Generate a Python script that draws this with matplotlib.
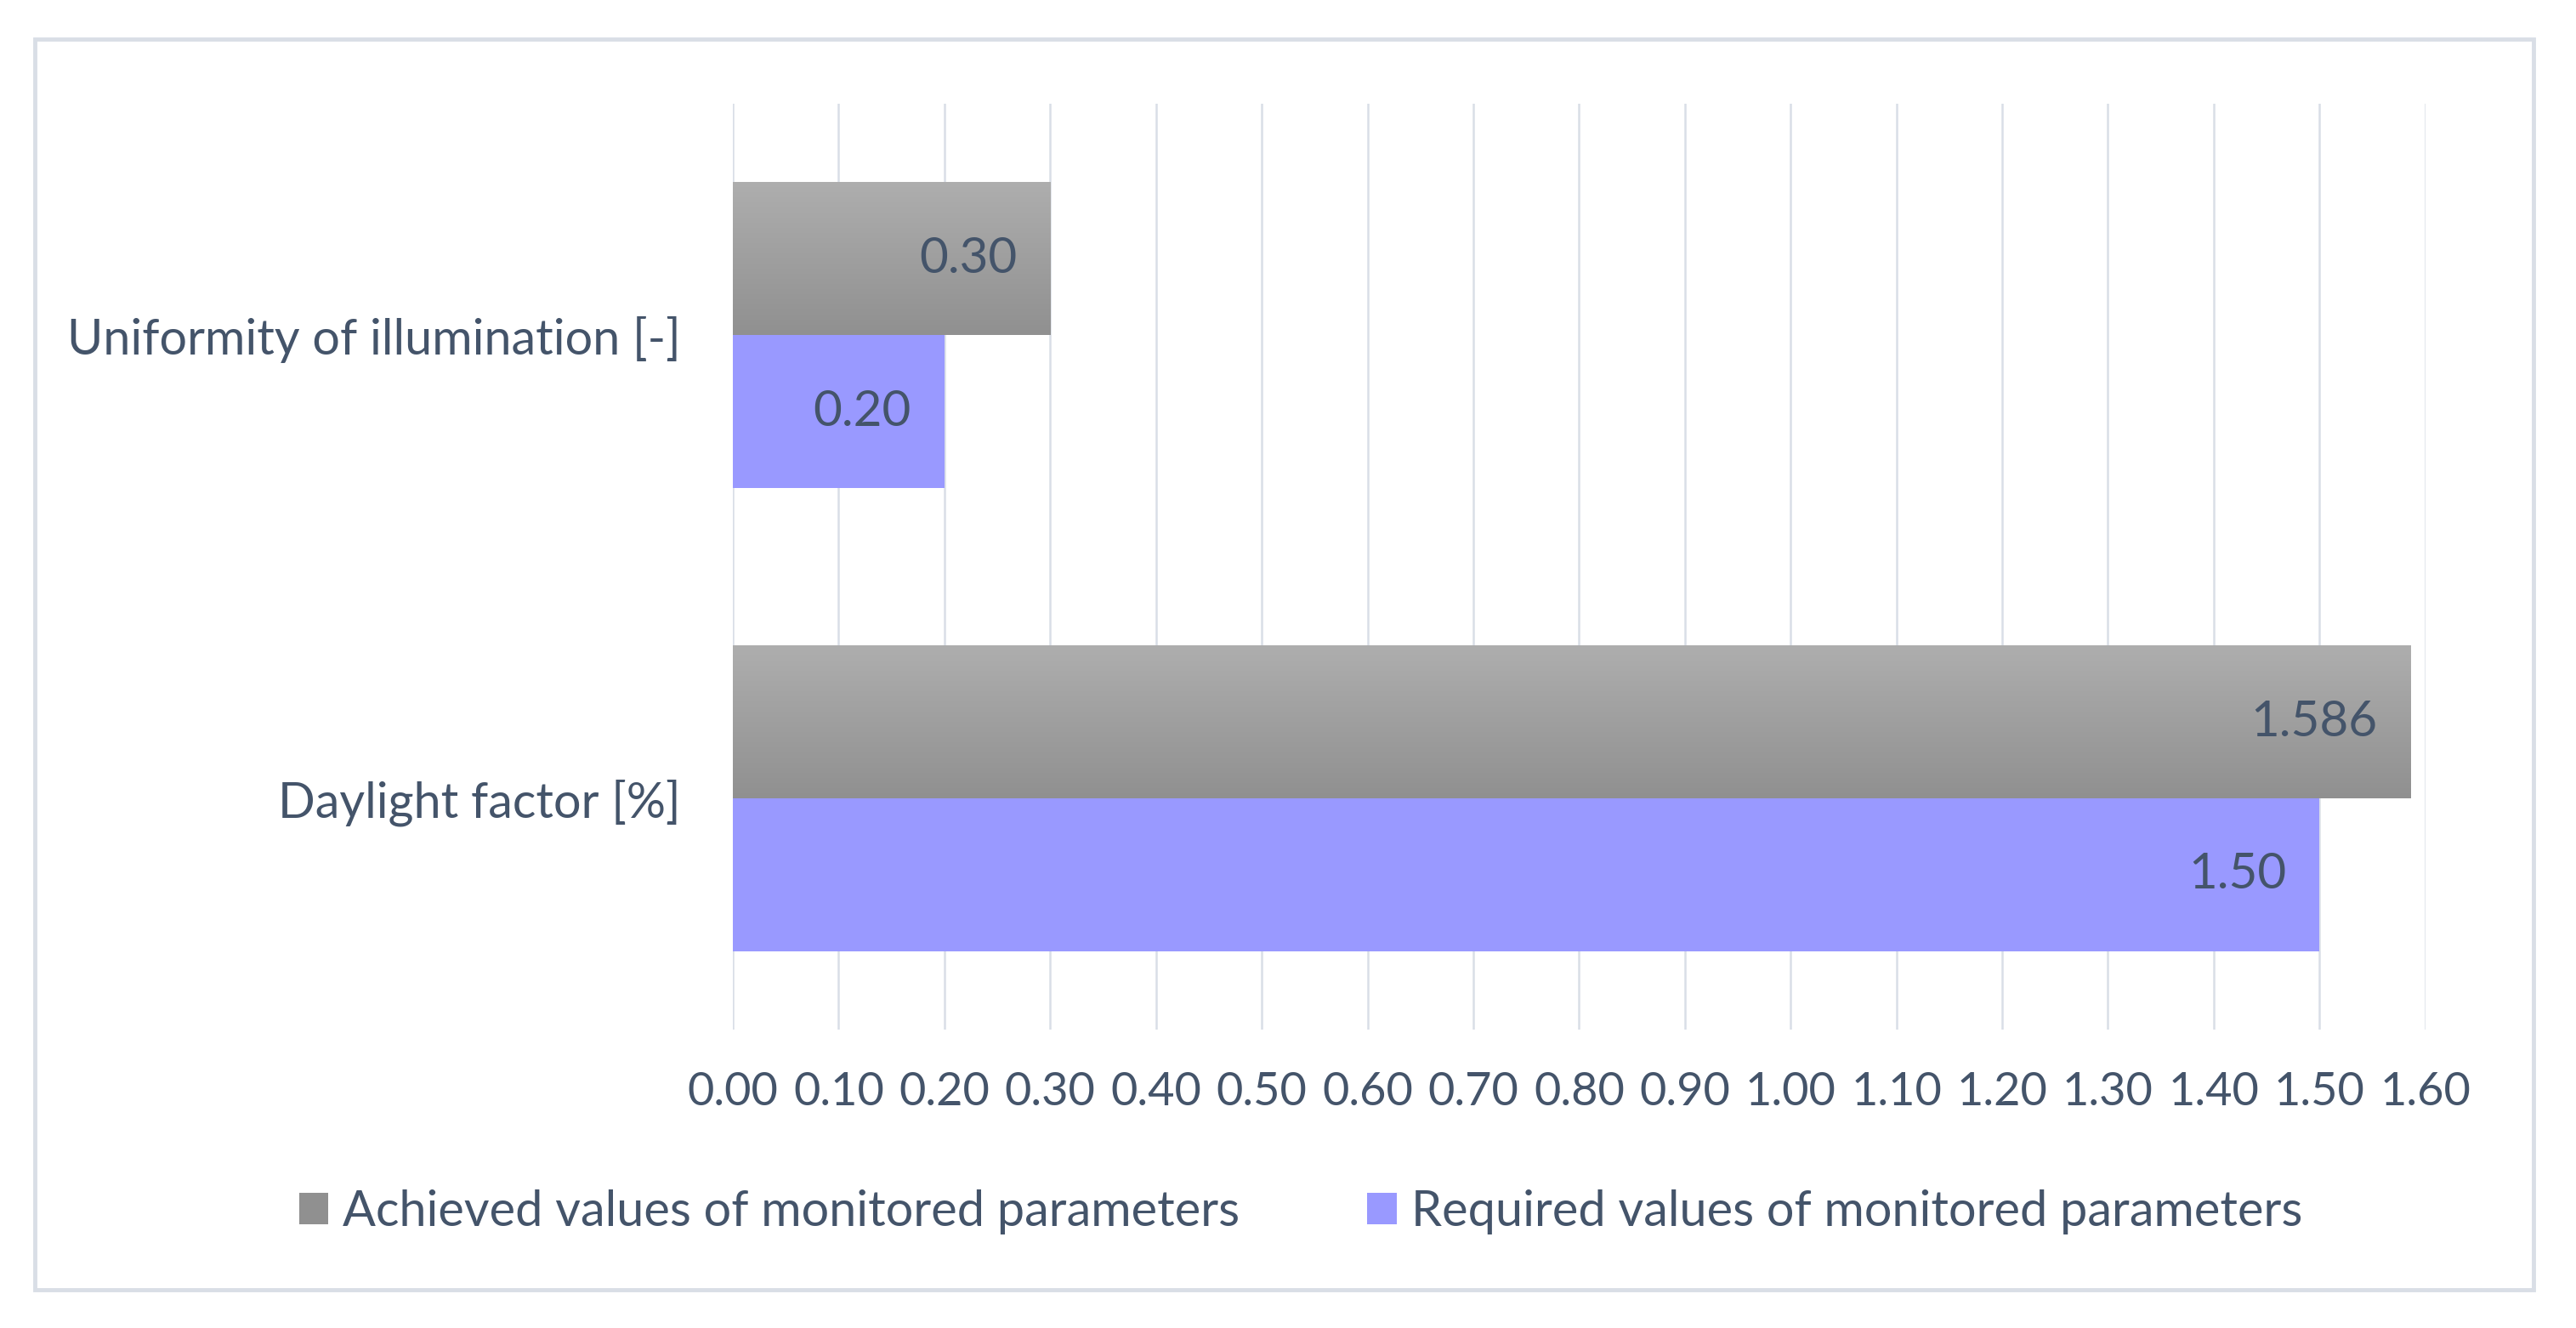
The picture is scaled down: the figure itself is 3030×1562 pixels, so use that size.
import numpy as np
import matplotlib
matplotlib.use("Agg")
import matplotlib.pyplot as plt
from matplotlib.patches import Rectangle, Patch
from matplotlib.colors import LinearSegmentedColormap

categories = ["Daylight factor [%]", "Uniformity of illumination [-]"]
achieved = [1.586, 0.30]
required = [1.50, 0.20]
achieved_labels = ["1.586", "0.30"]
required_labels = ["1.50", "0.20"]
series_names = ["Achieved values of monitored parameters",
                "Required values of monitored parameters"]
xticks = [round(0.1 * i, 2) for i in range(17)]
xtick_labels = [f"{v:.2f}" for v in xticks]

TEXT = "#44546A"
GRID = "#D9DEE7"
BLUE = "#9999FF"
GRAY_TOP = "#AEAEAE"
GRAY_BOT = "#909090"

plt.rcParams['font.family'] = ['Lato', 'DejaVu Sans']
FS_TICK = 39
FS_CAT = 41.5
FS_LAB = 42
FS_LEG = 41.5

fig = plt.figure(figsize=(30.30, 15.62), dpi=100)
fig.patch.set_facecolor("white")

# outer border
fig.add_artist(Rectangle((0.0135, 0.0288), 0.97, 0.9418, transform=fig.transFigure,
                         fill=False, edgecolor="#D9DEE6", linewidth=3.5))

ax = fig.add_axes([0.2845, 0.2245, 0.6570, 0.6975])
ax.set_xlim(0, 1.6)
ax.set_ylim(-0.5, 1.5)
for s in ax.spines.values():
    s.set_visible(False)
ax.set_xticks(xticks)
ax.set_xticklabels(xtick_labels)
ax.set_yticks(range(len(categories)))
ax.set_yticklabels(categories)
ax.tick_params(axis='x', length=0, pad=35, labelsize=FS_TICK, labelcolor=TEXT)
ax.tick_params(axis='y', length=0, pad=44, labelsize=FS_CAT, labelcolor=TEXT)
ax.grid(axis='x', color=GRID, linewidth=1.8)
ax.set_axisbelow(True)

h = 0.33
y = np.arange(len(categories))
bars_a = ax.barh(y + h / 2, achieved, height=h, color=GRAY_TOP, zorder=2)
bars_r = ax.barh(y - h / 2, required, height=h, color=BLUE, zorder=2)

# vertical gradient on achieved bars
grad = np.linspace(0, 1, 256).reshape(-1, 1)
cmap = LinearSegmentedColormap.from_list("g", [GRAY_TOP, GRAY_BOT])
for b in bars_a:
    x0, y0 = b.get_x(), b.get_y()
    w, hh = b.get_width(), b.get_height()
    im = ax.imshow(grad, cmap=cmap, aspect='auto', origin='upper',
                   extent=(x0, x0 + w, y0, y0 + hh), zorder=3)
    im.set_clip_path(b)
ax.set_xlim(0, 1.6)
ax.set_ylim(-0.5, 1.5)

for b, lab in zip(bars_a, achieved_labels):
    ax.annotate(lab, (b.get_width(), b.get_y() + b.get_height() / 2),
                xytext=(-28, 0), textcoords='offset points', ha='right', va='center',
                fontsize=FS_LAB, color=TEXT, zorder=5)
for b, lab in zip(bars_r, required_labels):
    ax.annotate(lab, (b.get_width(), b.get_y() + b.get_height() / 2),
                xytext=(-28, 0), textcoords='offset points', ha='right', va='center',
                fontsize=FS_LAB, color=TEXT, zorder=5)

handles = [Patch(facecolor=GRAY_BOT, edgecolor='none'),
           Patch(facecolor=BLUE, edgecolor='none')]
fig.legend(handles, series_names, loc='center', bbox_to_anchor=(0.505, 0.0875),
           ncol=2, frameon=False, fontsize=FS_LEG, labelcolor=TEXT,
           handlelength=0.6, handleheight=0.6, handletextpad=0.3,
           columnspacing=2.6)

fig.savefig("out.png", dpi=100, facecolor="white")
